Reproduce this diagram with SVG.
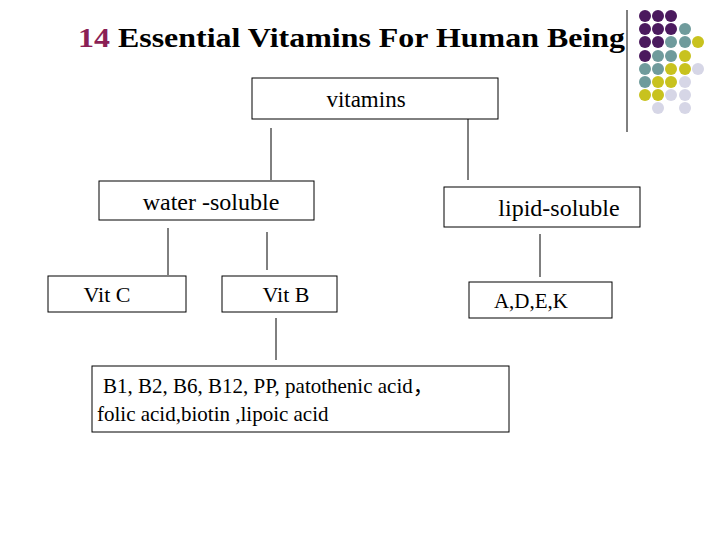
<svg xmlns="http://www.w3.org/2000/svg" width="720" height="540" viewBox="0 0 720 540">
<style>
.b{fill:#fff;stroke:#000;stroke-width:1}
.t{font-family:"Liberation Serif","Times New Roman","DejaVu Serif",serif;fill:#000}
.c line{stroke:#000;stroke-width:1}
.p{fill:#4b1a5e}.g{fill:#6f9b9c}.y{fill:#c8c21e}.l{fill:#d6d6e6}
</style>
<rect width="720" height="540" fill="#fff"/>
<text x="78" y="47" class="t" font-size="28" font-weight="bold" textLength="547" lengthAdjust="spacingAndGlyphs"><tspan fill="#8b1f55">14</tspan> Essential Vitamins For Human Being</text>
<line x1="627" y1="10" x2="627" y2="132" stroke="#000"/>
<g id="dots">
<circle class="p" cx="645" cy="16" r="6"/><circle class="p" cx="658" cy="16" r="6"/><circle class="p" cx="671" cy="16" r="6"/>
<circle class="p" cx="645" cy="29" r="6"/><circle class="p" cx="658" cy="29" r="6"/><circle class="p" cx="671" cy="29" r="6"/><circle class="g" cx="685" cy="29" r="6"/>
<circle class="p" cx="645" cy="42" r="6"/><circle class="p" cx="658" cy="42" r="6"/><circle class="g" cx="671" cy="42" r="6"/><circle class="g" cx="685" cy="42" r="6"/><circle class="y" cx="698" cy="42" r="6"/>
<circle class="p" cx="645" cy="56" r="6"/><circle class="g" cx="658" cy="56" r="6"/><circle class="g" cx="671" cy="56" r="6"/><circle class="y" cx="685" cy="56" r="6"/>
<circle class="g" cx="645" cy="69" r="6"/><circle class="g" cx="658" cy="69" r="6"/><circle class="y" cx="671" cy="69" r="6"/><circle class="y" cx="685" cy="69" r="6"/><circle class="l" cx="698" cy="69" r="6"/>
<circle class="g" cx="645" cy="82" r="6"/><circle class="y" cx="658" cy="82" r="6"/><circle class="y" cx="671" cy="82" r="6"/><circle class="l" cx="685" cy="82" r="6"/>
<circle class="y" cx="645" cy="95" r="6"/><circle class="y" cx="658" cy="95" r="6"/><circle class="l" cx="671" cy="95" r="6"/><circle class="l" cx="685" cy="95" r="6"/>
<circle class="l" cx="658" cy="108" r="6"/><circle class="l" cx="685" cy="108" r="6"/>
</g>
<g class="c" id="connectors">
<line x1="271" y1="128" x2="271" y2="180"/>
<line x1="468" y1="119" x2="468" y2="180"/>
<line x1="168" y1="228" x2="168" y2="275"/>
<line x1="267" y1="232" x2="267" y2="270"/>
<line x1="540" y1="234" x2="540" y2="277"/>
<line x1="276" y1="318" x2="276" y2="360"/>
</g>
<g id="vitamins"><rect class="b" x="252" y="78" width="246" height="41"/><text x="366" y="107" class="t" font-size="23" text-anchor="middle">vitamins</text></g>
<g id="water"><rect class="b" x="99" y="181" width="215" height="39"/><text x="211" y="210" class="t" font-size="24" text-anchor="middle">water -soluble</text></g>
<g id="lipid"><rect class="b" x="444" y="187" width="196" height="40"/><text x="559" y="216" class="t" font-size="24" text-anchor="middle">lipid-soluble</text></g>
<g id="vitc"><rect class="b" x="48" y="276" width="138" height="36"/><text x="107" y="302" class="t" font-size="22" text-anchor="middle">Vit C</text></g>
<g id="vitb"><rect class="b" x="222" y="276" width="115" height="36"/><text x="286" y="302" class="t" font-size="22" text-anchor="middle">Vit B</text></g>
<g id="adek"><rect class="b" x="469" y="282" width="143" height="36"/><text x="531" y="308" class="t" font-size="21" text-anchor="middle">A,D,E,K</text></g>
<g id="bgroup"><rect class="b" x="92" y="366" width="417" height="66"/>
<text x="103" y="393" class="t" font-size="21">B1, B2, B6, B12, PP, patothenic acid<tspan font-family="'Noto Sans CJK SC',sans-serif">，</tspan></text>
<text x="97" y="421" class="t" font-size="21">folic acid,biotin ,lipoic acid</text></g>
</svg>
